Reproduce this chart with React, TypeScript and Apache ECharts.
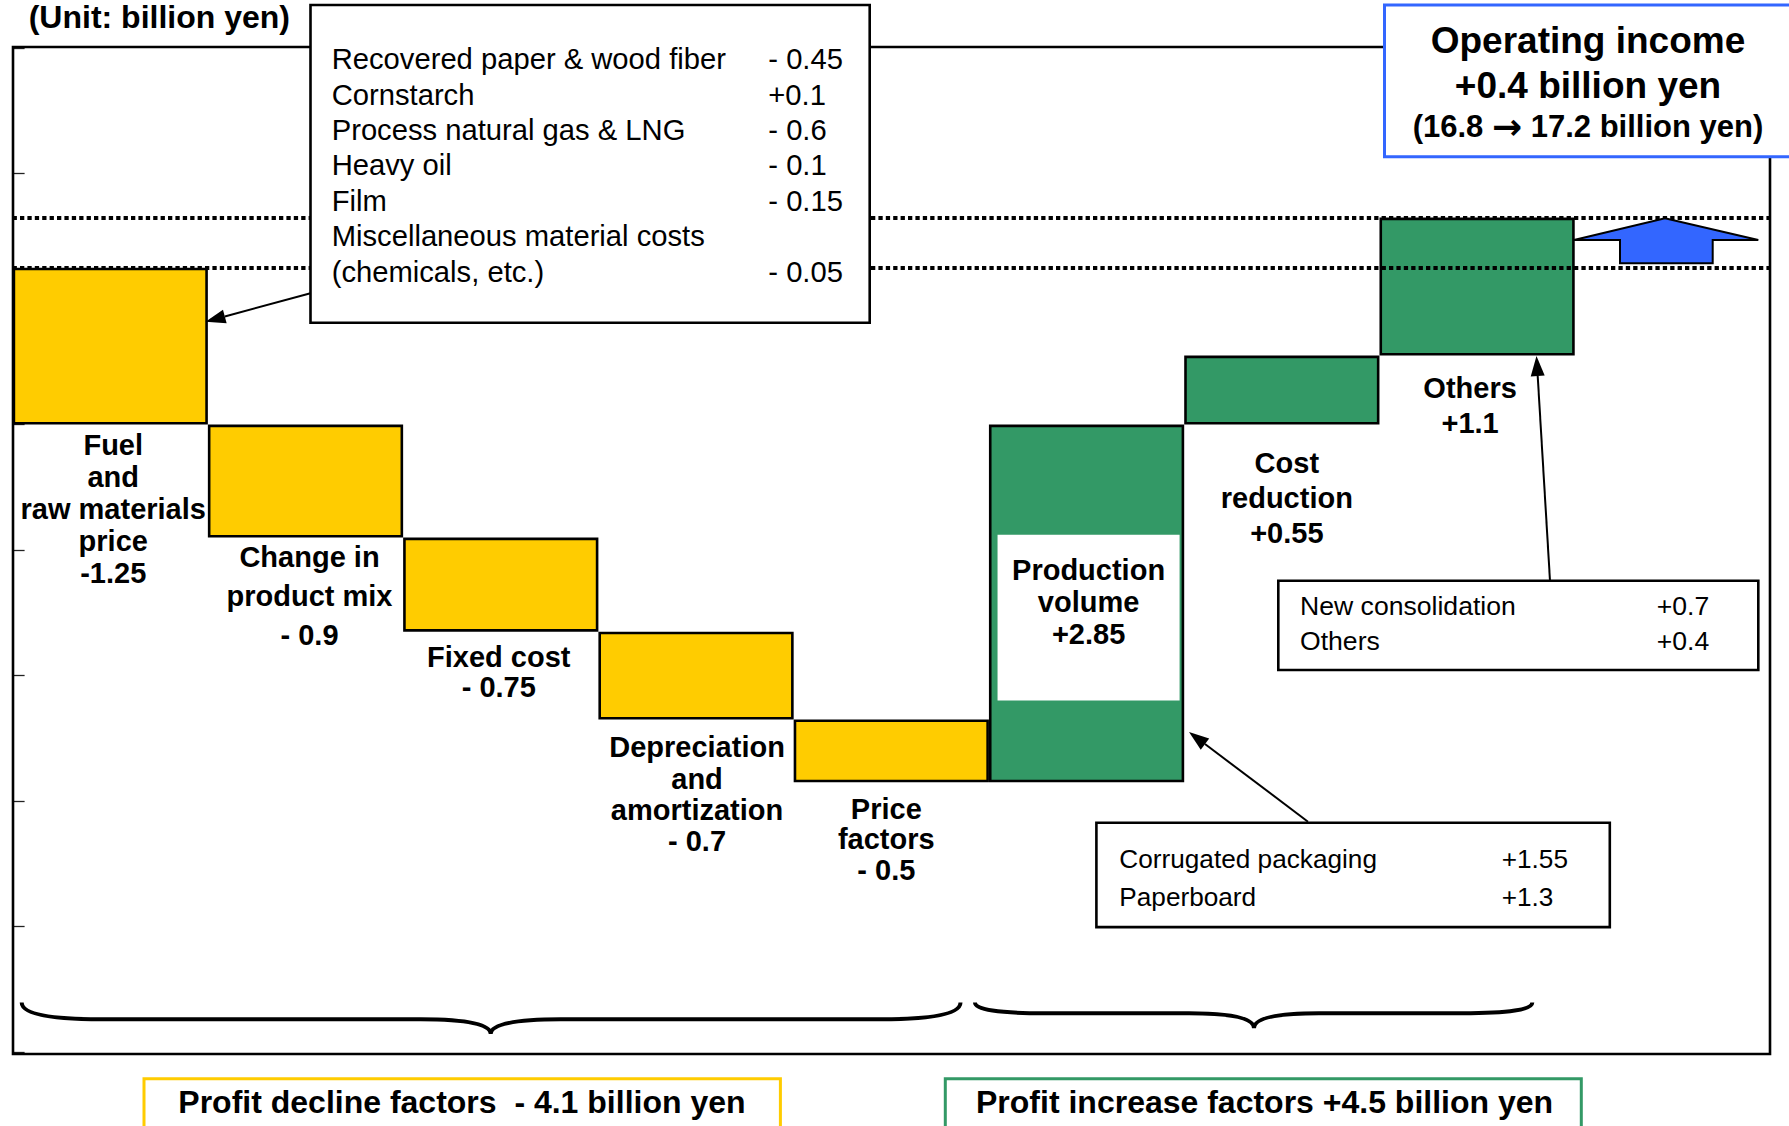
import React, { useEffect, useRef } from "react";
import * as echarts from "echarts";

// ---------- data ----------
const categories = [
  "Fuel\nand\nraw materials\nprice",
  "Change in\nproduct mix",
  "Fixed cost",
  "Depreciation\nand\namortization",
  "Price\nfactors",
  "Production\nvolume",
  "Cost\nreduction",
  "Others",
  "",
];
const deltas = [-1.25, -0.9, -0.75, -0.7, -0.5, 2.85, 0.55, 1.1];
const deltaLabels = ["-1.25", "- 0.9", "- 0.75", "- 0.7", "- 0.5", "+2.85", "+0.55", "+1.1"];
const startIncome = 16.8;
const endIncome = 17.2;
const unitTitle = "(Unit: billion yen)";
const headline = ["Operating income", "+0.4 billion yen"];
const headlineFrom = "(16.8 ";
const headlineArrow = "\u2192";
const headlineTo = " 17.2 billion yen)";
const materialItems = [
  "Recovered paper & wood fiber",
  "Cornstarch",
  "Process natural gas & LNG",
  "Heavy oil",
  "Film",
  "Miscellaneous material costs",
  "(chemicals, etc.)",
];
const materialValues = ["- 0.45", "+0.1", "- 0.6", "- 0.1", "- 0.15", "", "- 0.05"];
const othersItems = ["New consolidation", "Others"];
const othersValues = ["+0.7", "+0.4"];
const volumeItems = ["Corrugated packaging", "Paperboard"];
const volumeValues = ["+1.55", "+1.3"];
const declineTotal = "Profit decline factors  - 4.1 billion yen";
const increaseTotal = "Profit increase factors +4.5 billion yen";

// ---------- styles ----------
const FONT = "'Liberation Sans', Arial, Helvetica, sans-serif";
const YELLOW = "#FFCC00";
const GREEN = "#339966";
const BLUE = "#3366FF";
const labelStyles: any[] = [
  { lh: 32, dist: 4, dx: 3 },
  { lh: 38.8, dist: 0, dx: 4 },
  { lh: 30, dist: 10, dx: -2 },
  { lh: 31.4, dist: 12, dx: 1 },
  { lh: 30.5, dist: 11, dx: -5 },
  null,
  { lh: 35, dist: 20.7, dx: 5 },
  { lh: 35, dist: 14.7, dx: -7 },
];

function bracePath(x1: number, x2: number, xm: number, y0: number, y1: number, y2: number, r: number, r2: number) {
  return `M${x1} ${y0} Q${x1} ${y1} ${x1 + r} ${y1} L${xm - r2} ${y1} Q${xm} ${y1} ${xm} ${y2} Q${xm} ${y1} ${xm + r2} ${y1} L${x2 - r} ${y1} Q${x2} ${y1} ${x2} ${y0}`;
}
echarts.graphic.registerShape(
  "braceLeft",
  echarts.graphic.extendPath(bracePath(21.7, 960.5, 490.7, 1002.5, 1019.3, 1034, 80, 70), {})
);
echarts.graphic.registerShape(
  "braceRight",
  echarts.graphic.extendPath(bracePath(975, 1532.3, 1254, 1002.5, 1013.3, 1028.3, 70, 65), {})
);

function leader(x0: number, y0: number, x1: number, y1: number): any[] {
  const len = 20, hw = 7;
  const dx = x1 - x0, dy = y1 - y0;
  const d = Math.sqrt(dx * dx + dy * dy);
  const ux = dx / d, uy = dy / d;
  const bx = x1 - ux * len, by = y1 - uy * len;
  const nx = -uy, ny = ux;
  return [
    { type: "line", z: 20, shape: { x1: x0, y1: y0, x2: bx, y2: by }, style: { stroke: "#000", lineWidth: 2 } },
    {
      type: "polygon",
      z: 20,
      shape: { points: [[x1, y1], [bx + nx * hw, by + ny * hw], [bx - nx * hw, by - ny * hw]] },
      style: { fill: "#000" },
    },
  ];
}

function txt(text: string, x: number, y: number, size: number, bold: boolean, align = "left"): any {
  return {
    type: "text",
    z: 30,
    x,
    y,
    style: {
      text,
      fill: "#000",
      fontSize: size,
      fontWeight: bold ? "bold" : "normal",
      fontFamily: FONT,
      align,
      verticalAlign: "middle",
    },
  };
}

function buildOption() {
  // running totals for the waterfall
  const bases: any[] = [];
  const vis: any[] = [];
  let level = startIncome;
  deltas.forEach((d, i) => {
    const next = level + d;
    bases.push(Math.min(level, next));
    const ls = labelStyles[i];
    const labelText = categories[i] + "\n" + deltaLabels[i];
    let label: any;
    if (ls) {
      label = {
        show: true,
        position: "bottom",
        distance: ls.dist,
        offset: [ls.dx, 0],
        formatter: labelText,
        color: "#000",
        fontSize: 29,
        fontWeight: "bold",
        fontFamily: FONT,
        lineHeight: ls.lh,
        align: "center",
      };
    } else {
      label = {
        show: true,
        position: "inside",
        offset: [2, -68.6],
        formatter: labelText,
        color: "#000",
        fontSize: 29,
        fontWeight: "bold",
        fontFamily: FONT,
        lineHeight: 32,
        align: "center",
        verticalAlign: "top",
        backgroundColor: "#fff",
        padding: [19.5, 14.5, 50.2, 14.5],
      };
    }
    vis.push({ value: Math.abs(d), itemStyle: { color: d < 0 ? YELLOW : GREEN }, label });
    level = next;
  });
  bases.push("-");
  vis.push("-");

  const graphic: any[] = [];
  // frame
  graphic.push({
    type: "rect",
    z: 1,
    shape: { x: 13, y: 47, width: 1757, height: 1007 },
    style: { fill: "none", stroke: "#000", lineWidth: 2.6 },
  });
  // unit title
  graphic.push(txt(unitTitle, 28.7, 17, 32, true));
  // material box
  graphic.push({
    type: "rect",
    z: 15,
    shape: { x: 310.5, y: 5, width: 559.2, height: 317.7 },
    style: { fill: "#fff", stroke: "#000", lineWidth: 2.6 },
  });
  materialItems.forEach((t, i) => {
    const y = 69 + i * 35.43 - 9.8;
    graphic.push(txt(t, 331.7, y, 29.2, false));
    if (materialValues[i]) graphic.push(txt(materialValues[i], 768.3, y, 29.2, false));
  });
  // headline box
  graphic.push({
    type: "rect",
    z: 15,
    shape: { x: 1384.5, y: 5, width: 420, height: 151.7 },
    style: { fill: "#fff", stroke: BLUE, lineWidth: 3 },
  });
  graphic.push(txt(headline[0], 1588, 40.1, 37, true, "center"));
  graphic.push(txt(headline[1], 1588, 85.7, 37, true, "center"));
  graphic.push({
    type: "text",
    z: 30,
    x: 1588,
    y: 126.8,
    style: {
      text: `{a|${headlineFrom}}{b|${headlineArrow}}{a|${headlineTo}}`,
      align: "center",
      verticalAlign: "middle",
      rich: {
        a: { fontSize: 31, fontWeight: "bold", fontFamily: FONT, fill: "#000" },
        b: { fontSize: 36, fontWeight: "bold", fontFamily: "'DejaVu Sans', sans-serif", fill: "#000" },
      },
    },
  });
  // blue up arrow
  graphic.push({
    type: "polygon",
    z: 15,
    shape: {
      points: [
        [1574, 240], [1665, 218.3], [1758.3, 240], [1712.7, 240],
        [1712.7, 263.3], [1620, 263.3], [1620, 240],
      ],
    },
    style: { fill: BLUE, stroke: "#000", lineWidth: 2 },
  });
  // others breakdown box
  graphic.push({
    type: "rect",
    z: 15,
    shape: { x: 1278.3, y: 580.7, width: 480, height: 89.3 },
    style: { fill: "#fff", stroke: "#000", lineWidth: 2.6 },
  });
  othersItems.forEach((t, i) => {
    const y = 606.2 + i * 34.3;
    graphic.push(txt(t, 1300, y, 26.6, false));
    graphic.push(txt(othersValues[i], 1656.7, y, 26.6, false));
  });
  // production volume breakdown box
  graphic.push({
    type: "rect",
    z: 15,
    shape: { x: 1096.4, y: 822.7, width: 513.4, height: 104.4 },
    style: { fill: "#fff", stroke: "#000", lineWidth: 2.6 },
  });
  volumeItems.forEach((t, i) => {
    const y = 859 + i * 38;
    graphic.push(txt(t, 1119.3, y, 26.2, false));
    graphic.push(txt(volumeValues[i], 1501.7, y, 26.2, false));
  });
  // leaders
  graphic.push(...leader(310.5, 293.3, 205.5, 321.7));
  graphic.push(...leader(1550, 580.7, 1536.5, 356));
  graphic.push(...leader(1308, 821.7, 1189, 732));
  // braces
  graphic.push({ type: "braceLeft", z: 15, style: { fill: "none", stroke: "#000", lineWidth: 4 } });
  graphic.push({ type: "braceRight", z: 15, style: { fill: "none", stroke: "#000", lineWidth: 4 } });
  // totals boxes
  graphic.push({
    type: "rect",
    z: 15,
    shape: { x: 144, y: 1078.7, width: 636.4, height: 80 },
    style: { fill: "#fff", stroke: YELLOW, lineWidth: 3 },
  });
  graphic.push(txt(declineTotal, 178.3, 1102.2, 32, true));
  graphic.push({
    type: "rect",
    z: 15,
    shape: { x: 945.3, y: 1078.7, width: 636, height: 80 },
    style: { fill: "#fff", stroke: GREEN, lineWidth: 3 },
  });
  graphic.push(txt(increaseTotal, 976, 1102.2, 32, true));

  return {
    animation: false,
    backgroundColor: "#fff",
    textStyle: { fontFamily: FONT },
    grid: { left: 12.6, right: 19, top: 48.1, bottom: 73.9, containLabel: false },
    xAxis: {
      type: "category",
      data: categories,
      show: false,
    },
    yAxis: [
      { type: "value", min: 10.55, max: 18.55, show: false },
      {
        type: "value",
        min: 0,
        max: 8,
        interval: 1,
        position: "left",
        axisLine: { show: false },
        axisTick: { show: true, inside: true, length: 12, lineStyle: { color: "#222", width: 1.3 } },
        axisLabel: { show: false },
        splitLine: { show: false },
      },
    ],
    series: [
      {
        type: "bar",
        stack: "wf",
        barWidth: "100%",
        silent: true,
        itemStyle: { color: "transparent" },
        data: bases,
        z: 2,
      },
      {
        type: "bar",
        stack: "wf",
        barWidth: "100%",
        silent: true,
        itemStyle: { borderColor: "#000", borderWidth: 2.6 },
        data: vis,
        z: 3,
        markLine: {
          silent: true,
          symbol: ["none", "none"],
          label: { show: false },
          lineStyle: { color: "#000", type: [4.3, 3.1], width: 4 },
          data: [{ yAxis: endIncome }, { yAxis: startIncome }],
        },
      },
    ],
    graphic,
  };
}

export default function App() {
  const ref = useRef<HTMLDivElement>(null);
  useEffect(() => {
    const chart = echarts.init(ref.current!, null, { renderer: "svg" });
    chart.setOption(buildOption() as any);
    return () => chart.dispose();
  }, []);
  return (
    <div
      ref={ref}
      style={{ position: "absolute", left: 0, top: 0, width: 1789, height: 1126, background: "#fff" }}
    />
  );
}
